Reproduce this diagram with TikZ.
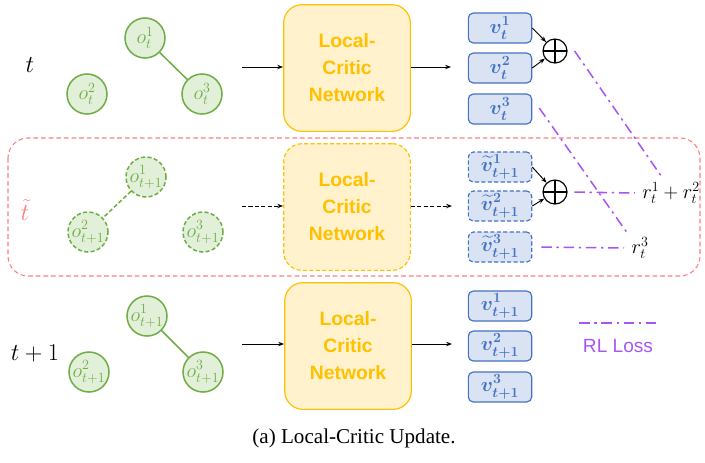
\documentclass[tikz,border=0pt]{standalone}
\usepackage{amsmath}
\usepackage{bm}
\usepackage[no-math]{fontspec}
\setmainfont{Liberation Serif}
\newfontfamily\netfont{Liberation Sans}
\usetikzlibrary{arrows.meta,positioning,calc}

\definecolor{obsgreen}{HTML}{70AD47}
\definecolor{obsfill}{HTML}{E2F0D9}
\definecolor{netgold}{HTML}{FFC000}
\definecolor{netfill}{HTML}{FFF2CC}
\definecolor{valblue}{HTML}{4472C4}
\definecolor{valfill}{HTML}{DAE3F3}
\definecolor{tildepink}{HTML}{FF7C80}
\definecolor{losspurple}{HTML}{A855F7}

\begin{document}
\begin{tikzpicture}[x=0.03cm, y=-0.03cm,
    obs/.style={circle, draw=obsgreen, fill=obsfill, line width=1.3pt,
        minimum size=1.2cm, inner sep=0pt, text=obsgreen,
        font=\fontsize{17}{19}\selectfont},
    link/.style={obsgreen, line width=1.3pt},
    ghost/.style={dash pattern=on 3.5pt off 2pt},
    critic/.style={draw=netgold, fill=netfill, rounded corners=0.55cm,
        line width=1pt, minimum width=3.8cm, minimum height=3.8cm,
        align=center, text=netgold,
        font=\netfont\bfseries\fontsize{16.5}{23}\selectfont},
    value/.style={draw=valblue, fill=valfill, rounded corners=0.15cm,
        line width=1pt, minimum width=1.9cm, minimum height=0.9cm,
        inner sep=0pt, text=valblue, font=\fontsize{18}{20}\selectfont\boldmath},
    sum/.style={circle, draw, line width=1pt, minimum size=0.72cm, inner sep=0pt,
        path picture={\draw[line width=1pt]
            (path picture bounding box.north) -- (path picture bounding box.south)
            (path picture bounding box.west) -- (path picture bounding box.east);}},
    flow/.style={-{Stealth[length=5pt]}, line width=0.8pt},
    rl/.style={losspurple, line width=1.3pt,
        dash pattern=on 9pt off 4pt on 2pt off 4pt},
    tag/.style={font=\fontsize{20}{24}\selectfont},
    reward/.style={font=\fontsize{18}{21}\selectfont}]

    \useasboundingbox (0,0) rectangle (705,462);

    % Dashed frame round the imagined step
    \draw[tildepink, line width=0.9pt, dash pattern=on 4pt off 2.5pt,
        rounded corners=0.6cm] (8,138) rectangle (700,276);

    % Time labels
    \node[tag] (ta) at (30,65) {$t$};
    \node[tag, text=tildepink] (tb) at (25,210) {$\tilde{t}$};
    \node[tag] (tc) at (35,353) {$t+1$};

    % Observations
    \node[obs] (oa1) at (145,38) {$o_t^1$};
    \node[obs] (oa2) at (87,94) {$o_t^2$};
    \node[obs] (oa3) at (202,94) {$o_t^3$};
    \draw[link] (oa1) -- (oa3);

    \node[obs, ghost] (ob1) at (146,177) {$o_{t+1}^1$};
    \node[obs, ghost] (ob2) at (88,232) {$o_{t+1}^2$};
    \node[obs, ghost] (ob3) at (203,232) {$o_{t+1}^3$};
    \draw[link, ghost] (ob1) -- (ob2);

    \node[obs] (oc1) at (147,316) {$o_{t+1}^1$};
    \node[obs] (oc2) at (89,372) {$o_{t+1}^2$};
    \node[obs] (oc3) at (203,372) {$o_{t+1}^3$};
    \draw[link] (oc1) -- (oc3);

    % Critic networks
    \node[critic] (neta) at (347,68) {Local-\\Critic\\Network};
    \node[critic, ghost] (netb) at (347,207) {Local-\\Critic\\Network};
    \node[critic] (netc) at (348,346) {Local-\\Critic\\Network};

    \coordinate (ina) at (242,67);
    \coordinate (inb) at (242,206);
    \coordinate (inc) at (242,344);
    \coordinate (outa) at (451,67);
    \coordinate (outb) at (452,206);
    \coordinate (outc) at (452,344);
    \draw[flow] (ina) -- (ina -| neta.west);
    \draw[flow] (outa -| neta.east) -- (outa);
    \draw[flow, ghost] (inb) -- (inb -| netb.west);
    \draw[flow, ghost] (outb -| netb.east) -- (outb);
    \draw[flow] (inc) -- (inc -| netc.west);
    \draw[flow] (outc -| netc.east) -- (outc);

    % Values
    \foreach \k/\y in {1/28, 2/68, 3/109}
        \node[value] (va\k) at (500,\y) {$v_t^{\k}$};
    \foreach \k/\y in {1/167, 2/206, 3/247}
        \node[value, ghost] (vb\k) at (500,\y) {${\widetilde{v}}_{t+1}^{\k}$};
    \foreach \k/\y in {1/306, 2/346, 3/387}
        \node[value] (vc\k) at (500,\y) {$v_{t+1}^{\k}$};

    % Sums of the first two values
    \node[sum] (suma) at (555,51) {};
    \node[sum] (sumb) at (555,192) {};
    \draw[flow] (va1.east) -- (suma);
    \draw[flow] (va2.east) -- (suma);
    \draw[flow] (vb1.east) -- (sumb);
    \draw[flow] (vb2.east) -- (sumb);

    % Rewards
    \node[reward] (r12) at (671,193) {$r_t^1+r_t^2$};
    \node[reward] (r3) at (640,248) {$r_t^3$};

    % RL losses
    \draw[rl] ([xshift=0.21cm]suma.east) -- ([xshift=-0.25cm]r12.north);
    \draw[rl] ([xshift=0.21cm, yshift=0.03cm]va3.east) -- (r3.north west);
    \draw[rl, shorten <=0.2cm, shorten >=0.1cm] (sumb.east) -- (r12.west);
    \draw[rl, shorten <=0.27cm, shorten >=0.1cm] (vb3.east) -- (r3.west);

    % Legend
    \coordinate (lega) at (579,323);
    \coordinate (legb) at (658,323);
    \draw[rl] (lega) -- (legb);
    \node[text=losspurple, font=\netfont\fontsize{16.3}{19}\selectfont]
        (legtext) at (618,346) {RL Loss};

    % Caption
    \node[font=\fontsize{18}{21}\selectfont] (caption) at (354,438)
        {(a) Local-Critic Update.};
\end{tikzpicture}
\end{document}
